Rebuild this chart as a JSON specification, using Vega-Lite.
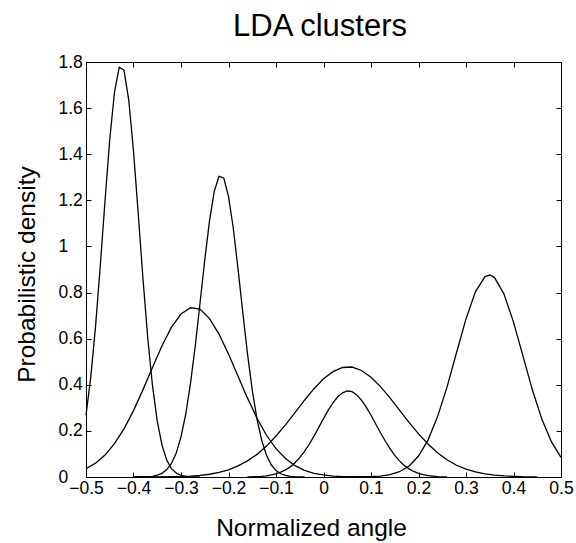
{
"$schema": "https://vega.github.io/schema/vega-lite/v6.json",
"width": 475, "height": 415,
"autosize": {"type": "none"},
"padding": {"left": 86, "top": 62, "right": 15, "bottom": 66},
"background": "white",
"config": {"font": "Liberation Sans", "view": {"stroke": "black", "strokeWidth": 1},
  "axis": {"domainColor": "black", "tickColor": "black", "labelColor": "black", "titleColor": "black", "grid": false, "tickSize": -5, "labelFont": "Liberation Sans", "titleFont": "Liberation Sans", "labelFontSize": 17.5, "titleFontSize": 24.5, "titleFontWeight": "normal", "domainWidth": 1, "tickWidth": 1, "labelOverlap": false, "labelFlush": false, "labelBound": false}},
"data": {"values": [
{"cluster":"A","angle":-0.5,"density":0.268},{"cluster":"A","angle":-0.49,"density":0.433},{"cluster":"A","angle":-0.48,"density":0.651},{"cluster":"A","angle":-0.47,"density":0.914},{"cluster":"A","angle":-0.46,"density":1.197},{"cluster":"A","angle":-0.45,"density":1.464},{"cluster":"A","angle":-0.44,"density":1.67},{"cluster":"A","angle":-0.43,"density":1.777},{"cluster":"A","angle":-0.42,"density":1.765},{"cluster":"A","angle":-0.41,"density":1.635},{"cluster":"A","angle":-0.4,"density":1.414},{"cluster":"A","angle":-0.39,"density":1.141},{"cluster":"A","angle":-0.38,"density":0.859},{"cluster":"A","angle":-0.37,"density":0.603},{"cluster":"A","angle":-0.36,"density":0.396},{"cluster":"A","angle":-0.35,"density":0.242},{"cluster":"A","angle":-0.34,"density":0.138},{"cluster":"A","angle":-0.33,"density":0.073},{"cluster":"A","angle":-0.32,"density":0.036},{"cluster":"A","angle":-0.31,"density":0.017},{"cluster":"A","angle":-0.3,"density":0.007},{"cluster":"A","angle":-0.29,"density":0.003},{"cluster":"A","angle":-0.28,"density":0.001},{"cluster":"A","angle":-0.26,"density":0.0},
{"cluster":"B","angle":-0.4,"density":0.0},{"cluster":"B","angle":-0.38,"density":0.001},{"cluster":"B","angle":-0.37,"density":0.001},{"cluster":"B","angle":-0.36,"density":0.003},{"cluster":"B","angle":-0.35,"density":0.008},{"cluster":"B","angle":-0.34,"density":0.016},{"cluster":"B","angle":-0.33,"density":0.032},{"cluster":"B","angle":-0.32,"density":0.059},{"cluster":"B","angle":-0.31,"density":0.104},{"cluster":"B","angle":-0.3,"density":0.174},{"cluster":"B","angle":-0.29,"density":0.273},{"cluster":"B","angle":-0.28,"density":0.406},{"cluster":"B","angle":-0.27,"density":0.569},{"cluster":"B","angle":-0.26,"density":0.753},{"cluster":"B","angle":-0.25,"density":0.941},{"cluster":"B","angle":-0.24,"density":1.111},{"cluster":"B","angle":-0.23,"density":1.239},{"cluster":"B","angle":-0.22,"density":1.304},{"cluster":"B","angle":-0.21,"density":1.297},{"cluster":"B","angle":-0.2,"density":1.217},{"cluster":"B","angle":-0.19,"density":1.08},{"cluster":"B","angle":-0.18,"density":0.904},{"cluster":"B","angle":-0.17,"density":0.715},{"cluster":"B","angle":-0.16,"density":0.534},{"cluster":"B","angle":-0.15,"density":0.377},{"cluster":"B","angle":-0.14,"density":0.251},{"cluster":"B","angle":-0.13,"density":0.158},{"cluster":"B","angle":-0.12,"density":0.094},{"cluster":"B","angle":-0.11,"density":0.053},{"cluster":"B","angle":-0.1,"density":0.028},{"cluster":"B","angle":-0.09,"density":0.014},{"cluster":"B","angle":-0.08,"density":0.007},{"cluster":"B","angle":-0.07,"density":0.003},{"cluster":"B","angle":-0.06,"density":0.001},{"cluster":"B","angle":-0.04,"density":0.0},
{"cluster":"C","angle":-0.5,"density":0.036},{"cluster":"C","angle":-0.48,"density":0.06},{"cluster":"C","angle":-0.46,"density":0.095},{"cluster":"C","angle":-0.44,"density":0.145},{"cluster":"C","angle":-0.42,"density":0.209},{"cluster":"C","angle":-0.4,"density":0.288},{"cluster":"C","angle":-0.38,"density":0.379},{"cluster":"C","angle":-0.36,"density":0.475},{"cluster":"C","angle":-0.34,"density":0.569},{"cluster":"C","angle":-0.32,"density":0.65},{"cluster":"C","angle":-0.3,"density":0.707},{"cluster":"C","angle":-0.28,"density":0.734},{"cluster":"C","angle":-0.26,"density":0.728},{"cluster":"C","angle":-0.24,"density":0.687},{"cluster":"C","angle":-0.22,"density":0.62},{"cluster":"C","angle":-0.2,"density":0.533},{"cluster":"C","angle":-0.18,"density":0.437},{"cluster":"C","angle":-0.16,"density":0.342},{"cluster":"C","angle":-0.14,"density":0.255},{"cluster":"C","angle":-0.12,"density":0.181},{"cluster":"C","angle":-0.1,"density":0.123},{"cluster":"C","angle":-0.08,"density":0.08},{"cluster":"C","angle":-0.06,"density":0.049},{"cluster":"C","angle":-0.04,"density":0.029},{"cluster":"C","angle":-0.02,"density":0.016},{"cluster":"C","angle":0.0,"density":0.009},{"cluster":"C","angle":0.02,"density":0.004},{"cluster":"C","angle":0.04,"density":0.002},{"cluster":"C","angle":0.06,"density":0.001},{"cluster":"C","angle":0.08,"density":0.0},
{"cluster":"D","angle":-0.4,"density":0.0},{"cluster":"D","angle":-0.36,"density":0.0},{"cluster":"D","angle":-0.32,"density":0.001},{"cluster":"D","angle":-0.3,"density":0.002},{"cluster":"D","angle":-0.28,"density":0.004},{"cluster":"D","angle":-0.26,"density":0.007},{"cluster":"D","angle":-0.24,"density":0.012},{"cluster":"D","angle":-0.22,"density":0.02},{"cluster":"D","angle":-0.2,"density":0.031},{"cluster":"D","angle":-0.18,"density":0.048},{"cluster":"D","angle":-0.16,"density":0.07},{"cluster":"D","angle":-0.14,"density":0.098},{"cluster":"D","angle":-0.12,"density":0.134},{"cluster":"D","angle":-0.1,"density":0.178},{"cluster":"D","angle":-0.08,"density":0.226},{"cluster":"D","angle":-0.06,"density":0.279},{"cluster":"D","angle":-0.04,"density":0.333},{"cluster":"D","angle":-0.02,"density":0.383},{"cluster":"D","angle":0.0,"density":0.426},{"cluster":"D","angle":0.02,"density":0.457},{"cluster":"D","angle":0.04,"density":0.475},{"cluster":"D","angle":0.06,"density":0.477},{"cluster":"D","angle":0.08,"density":0.462},{"cluster":"D","angle":0.1,"density":0.433},{"cluster":"D","angle":0.12,"density":0.392},{"cluster":"D","angle":0.14,"density":0.343},{"cluster":"D","angle":0.16,"density":0.29},{"cluster":"D","angle":0.18,"density":0.237},{"cluster":"D","angle":0.2,"density":0.187},{"cluster":"D","angle":0.22,"density":0.143},{"cluster":"D","angle":0.24,"density":0.105},{"cluster":"D","angle":0.26,"density":0.075},{"cluster":"D","angle":0.28,"density":0.051},{"cluster":"D","angle":0.3,"density":0.034},{"cluster":"D","angle":0.32,"density":0.022},{"cluster":"D","angle":0.34,"density":0.014},{"cluster":"D","angle":0.36,"density":0.008},{"cluster":"D","angle":0.38,"density":0.005},{"cluster":"D","angle":0.4,"density":0.003},{"cluster":"D","angle":0.42,"density":0.001},{"cluster":"D","angle":0.45,"density":0.0},
{"cluster":"E","angle":-0.16,"density":0.0},{"cluster":"E","angle":-0.14,"density":0.002},{"cluster":"E","angle":-0.13,"density":0.003},{"cluster":"E","angle":-0.12,"density":0.005},{"cluster":"E","angle":-0.11,"density":0.009},{"cluster":"E","angle":-0.1,"density":0.014},{"cluster":"E","angle":-0.09,"density":0.021},{"cluster":"E","angle":-0.08,"density":0.031},{"cluster":"E","angle":-0.07,"density":0.044},{"cluster":"E","angle":-0.06,"density":0.062},{"cluster":"E","angle":-0.05,"density":0.084},{"cluster":"E","angle":-0.04,"density":0.111},{"cluster":"E","angle":-0.03,"density":0.142},{"cluster":"E","angle":-0.02,"density":0.177},{"cluster":"E","angle":-0.01,"density":0.215},{"cluster":"E","angle":0.0,"density":0.253},{"cluster":"E","angle":0.01,"density":0.29},{"cluster":"E","angle":0.02,"density":0.322},{"cluster":"E","angle":0.03,"density":0.348},{"cluster":"E","angle":0.04,"density":0.365},{"cluster":"E","angle":0.05,"density":0.373},{"cluster":"E","angle":0.06,"density":0.37},{"cluster":"E","angle":0.07,"density":0.356},{"cluster":"E","angle":0.08,"density":0.333},{"cluster":"E","angle":0.09,"density":0.303},{"cluster":"E","angle":0.1,"density":0.268},{"cluster":"E","angle":0.11,"density":0.23},{"cluster":"E","angle":0.12,"density":0.192},{"cluster":"E","angle":0.13,"density":0.156},{"cluster":"E","angle":0.14,"density":0.123},{"cluster":"E","angle":0.15,"density":0.094},{"cluster":"E","angle":0.16,"density":0.07},{"cluster":"E","angle":0.17,"density":0.05},{"cluster":"E","angle":0.18,"density":0.035},{"cluster":"E","angle":0.19,"density":0.024},{"cluster":"E","angle":0.2,"density":0.016},{"cluster":"E","angle":0.21,"density":0.01},{"cluster":"E","angle":0.22,"density":0.006},{"cluster":"E","angle":0.23,"density":0.004},{"cluster":"E","angle":0.24,"density":0.002},{"cluster":"E","angle":0.26,"density":0.0},
{"cluster":"F","angle":0.06,"density":0.0},{"cluster":"F","angle":0.08,"density":0.001},{"cluster":"F","angle":0.1,"density":0.002},{"cluster":"F","angle":0.12,"density":0.004},{"cluster":"F","angle":0.14,"density":0.01},{"cluster":"F","angle":0.16,"density":0.023},{"cluster":"F","angle":0.18,"density":0.047},{"cluster":"F","angle":0.2,"density":0.091},{"cluster":"F","angle":0.22,"density":0.16},{"cluster":"F","angle":0.24,"density":0.261},{"cluster":"F","angle":0.26,"density":0.39},{"cluster":"F","angle":0.28,"density":0.539},{"cluster":"F","angle":0.3,"density":0.686},{"cluster":"F","angle":0.32,"density":0.804},{"cluster":"F","angle":0.34,"density":0.869},{"cluster":"F","angle":0.35,"density":0.876},{"cluster":"F","angle":0.36,"density":0.865},{"cluster":"F","angle":0.38,"density":0.794},{"cluster":"F","angle":0.4,"density":0.672},{"cluster":"F","angle":0.42,"density":0.524},{"cluster":"F","angle":0.44,"density":0.376},{"cluster":"F","angle":0.46,"density":0.249},{"cluster":"F","angle":0.48,"density":0.152},{"cluster":"F","angle":0.5,"density":0.085}
]},
"layer": [
 {"mark": {"type": "line", "color": "black", "strokeWidth": 1.3},
  "encoding": {
   "x": {"field": "angle", "type": "quantitative", "scale": {"domain": [-0.5, 0.5], "nice": false},
     "axis": {"orient": "bottom", "values": [-0.5,-0.4,-0.3,-0.2,-0.1,0,0.1,0.2,0.3,0.4,0.5], "format": ".1~f", "title": "Normalized angle", "labelPadding": 7, "titleBaseline": "alphabetic", "titleX": 225, "titleY": 58, "titleAnchor": "start", "titleAlign": "center"}},
   "y": {"field": "density", "type": "quantitative", "scale": {"domain": [0, 1.8], "nice": false},
     "axis": {"orient": "left", "values": [0,0.2,0.4,0.6,0.8,1,1.2,1.4,1.6,1.8], "format": ".1~f", "title": "Probabilistic density", "labelPadding": 33, "labelAlign": "left", "titleBaseline": "alphabetic", "titleX": -52, "titleY": 212, "titleAlign": "center", "titleAngle": -90}},
   "detail": {"field": "cluster"}}},
 {"mark": {"type": "line", "opacity": 0},
  "encoding": {
   "x": {"field": "angle", "type": "quantitative", "axis": {"orient": "top", "values": [-0.5,-0.4,-0.3,-0.2,-0.1,0,0.1,0.2,0.3,0.4,0.5], "labels": false, "title": "LDA clusters", "titleFontSize": 31, "titleBaseline": "alphabetic", "titleX": 233.5, "titleY": -27, "titleAlign": "center", "titleAnchor": "start"}},
   "y": {"field": "density", "type": "quantitative", "axis": {"orient": "right", "values": [0,0.2,0.4,0.6,0.8,1,1.2,1.4,1.6,1.8], "labels": false, "title": null}},
   "detail": {"field": "cluster"}}}
],
"resolve": {"axis": {"x": "independent", "y": "independent"}}
}
